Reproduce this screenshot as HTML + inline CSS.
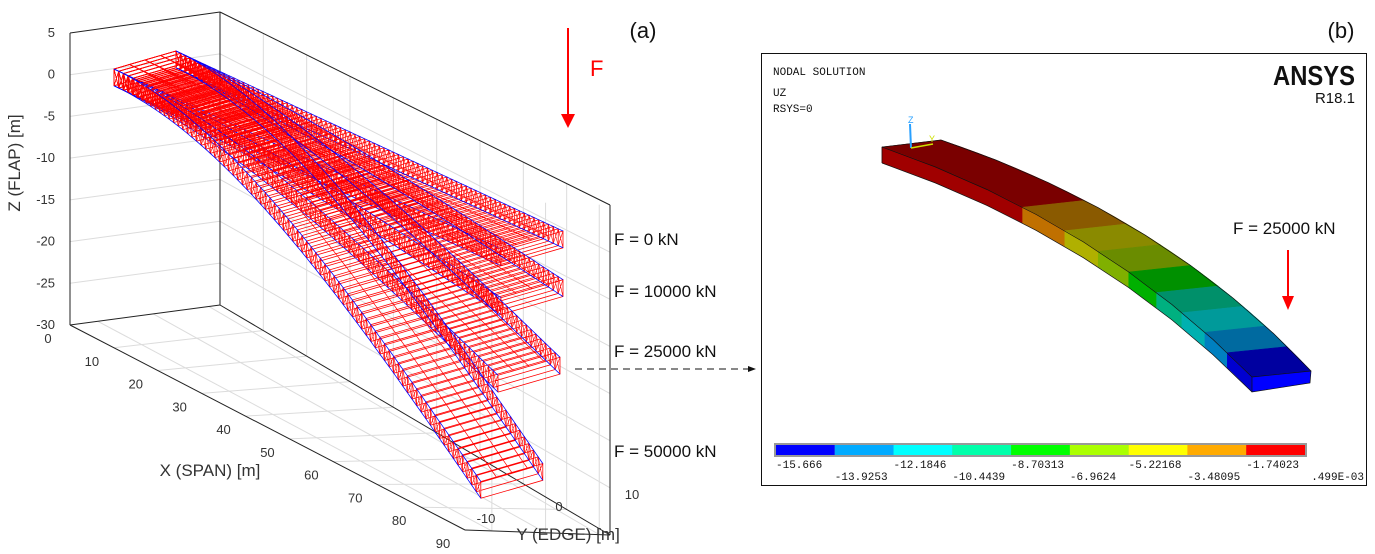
<!DOCTYPE html>
<html><head><meta charset="utf-8">
<style>
html,body{margin:0;padding:0;background:#fff;}
svg{display:block;font-family:"Liberation Sans",sans-serif;}
.mono{font-family:"Liberation Mono",monospace;}
</style></head>
<body>
<svg id="fig" width="1375" height="554" viewBox="0 0 1375 554">
  <g id="panelA">
    <g id="grid" stroke="#dcdcdc" stroke-width="1" fill="none"></g>
    <g id="frame" stroke="#222" stroke-width="1" fill="none">
      <line x1="70" y1="33" x2="220" y2="12"/>
      <line x1="220" y1="12" x2="610" y2="205"/>
      <line x1="220" y1="12" x2="220" y2="305"/>
      <line x1="610" y1="205" x2="610" y2="535"/>
      <line x1="70" y1="33" x2="70" y2="325"/>
      <line x1="70" y1="325" x2="220" y2="305"/>
      <line x1="220" y1="305" x2="610" y2="535"/>
      <line x1="70" y1="325" x2="465" y2="530"/>
      <line x1="465" y1="530" x2="610" y2="535"/>
    </g>
    <g id="ticks" font-size="13" fill="#333"></g>
    <g id="beams"></g>
    <text x="20" y="163" font-size="17" fill="#333" text-anchor="middle" transform="rotate(-90 20 163)">Z (FLAP)  [m]</text>
    <text x="210" y="476" font-size="17" fill="#333" text-anchor="middle">X (SPAN)  [m]</text>
    <text x="568" y="540" font-size="17" fill="#333" text-anchor="middle">Y (EDGE)  [m]</text>
    <text x="643" y="38" font-size="22" fill="#111" text-anchor="middle">(a)</text>
    <line x1="568" y1="28" x2="568" y2="116" stroke="#f00" stroke-width="2"/>
    <polygon points="561,114 575,114 568,128" fill="#f00"/>
    <text x="590" y="76" font-size="22" fill="#f00">F</text>
    <g id="loadLabels" font-size="17" fill="#111"></g>
    <line x1="575" y1="369" x2="748" y2="369" stroke="#111" stroke-width="1" stroke-dasharray="7,5"/>
    <polygon points="748,366 756,369 748,372" fill="#111"/>
  </g>
  <g id="panelB">
    <text x="1341" y="38" font-size="22" fill="#111" text-anchor="middle">(b)</text>
    <rect x="761.5" y="53.5" width="605" height="432" fill="#fff" stroke="#111" stroke-width="1"/>
    <text class="mono" x="773" y="75" font-size="11" fill="#111">NODAL SOLUTION</text>
    <text class="mono" x="773" y="96" font-size="11" fill="#111">UZ</text>
    <text class="mono" x="773" y="112" font-size="11" fill="#111">RSYS=0</text>
    <text x="1355" y="85" font-size="28" font-weight="bold" fill="#111" text-anchor="end" transform="translate(1355 0) scale(0.85 1) translate(-1355 0)">ANSYS</text>
    <text x="1355" y="103" font-size="15" fill="#111" text-anchor="end">R18.1</text>
    <g id="fem"></g>
    <line x1="911" y1="148" x2="910" y2="124" stroke="#29a0ff" stroke-width="2"/>
    <text x="908" y="123" font-size="9" fill="#29a0ff">Z</text>
    <line x1="911" y1="148" x2="933" y2="144" stroke="#cde000" stroke-width="1.5"/>
    <text x="929" y="142" font-size="9" fill="#cde000">Y</text>
    <text x="1233" y="234" font-size="17" fill="#111">F = 25000 kN</text>
    <line x1="1288" y1="250" x2="1288" y2="298" stroke="#f00" stroke-width="2"/>
    <polygon points="1282,296 1294,296 1288,310" fill="#f00"/>
    <g id="cbar"></g>
  </g>
</svg>
<script>
// ---- Panel (a) data ----
const loads = [0, 10000, 25000, 50000];
const loadText = ["F = 0 kN", "F = 10000 kN", "F = 25000 kN", "F = 50000 kN"];
const tipZ = [0, -5.8, -15.2, -28.8];
const tipX = [90, 90, 89.3, 85.3];
const zTicks = [5, 0, -5, -10, -15, -20, -25, -30];
const xTicks = [0, 10, 20, 30, 40, 50, 60, 70, 80, 90];
const yTicks = [-10, 0, 10];
// ---- Panel (b) data ----
const cbarValues = ["-15.666", "-13.9253", "-12.1846", "-10.4439", "-8.70313", "-6.9624", "-5.22168", "-3.48095", "-1.74023", ".499E-03"];
const cbarColors = ["#0000ff", "#00aaff", "#00ffff", "#00ffaa", "#00ff00", "#aaff00", "#ffff00", "#ffaa00", "#ff0000"];
const bandStops = [0, 0.34, 0.45, 0.54, 0.625, 0.705, 0.78, 0.85, 0.92, 1];
const topColors = ["#7a0000", "#8a5a00", "#8a8a00", "#6a8c00", "#009000", "#00906a", "#009a9a", "#006aa0", "#0000a0"];
const sideColors = ["#a00000", "#c07000", "#b0b000", "#80b000", "#00b000", "#00b080", "#00b0b0", "#0080c0", "#0000d0"];

const NS = "http://www.w3.org/2000/svg";
function mk(tag, attrs, parent) { const e = document.createElementNS(NS, tag); for (const k in attrs) e.setAttribute(k, attrs[k]); parent.appendChild(e); return e; }

function P(x, y, z) { return [151.2 + 4.3 * x + 6.2 * y, 58.2 + 2.0 * x - 1.8 * y - 8.4 * z]; }
function xAxisPt(x) { return [70 + x / 90 * 395, 325 + x / 90 * 205]; }

const grid = document.getElementById('grid');
const ticks = document.getElementById('ticks');
zTicks.forEach(z => {
  const f = (5 - z) / 35;
  const y0 = 33 + f * 292, yb = 12 + f * 293, yr = 205 + f * 330;
  if (z !== 5 && z !== -30) {
    const l1 = mk('line', {x1: 70, y1: y0, x2: 220, y2: yb}, grid);
    
    
    const l2 = mk('line', {x1: 220, y1: yb, x2: 610, y2: yr}, grid);
    
    
  }
  const t = mk('text', {x: 55, y: y0 + 4, 'text-anchor': 'end'}, ticks);
  t.textContent = z;
  
  
});
xTicks.forEach(x => {
  const [px, py] = xAxisPt(x);
  const bx = 220 + x / 90 * 390, by = 305 + x / 90 * 230;
  if (x > 0 && x < 90) {
    const g1 = mk('line', {x1: px, y1: py, x2: bx, y2: by}, grid);
    
    
    const g2 = mk('line', {x1: bx, y1: by, x2: bx, y2: 12 + x / 90 * 193}, grid);
    
    
  }
  const t = mk('text', {x: px - 22, y: py + 18, 'text-anchor': 'middle'}, ticks);
  t.textContent = x;
  
  
});
yTicks.forEach(y => {
  const f = (y + 15) / 27;
  const px = 465 + f * 145, py = 530 + f * 5;
  const fx = 70 + f * 150, fy = 325 - f * 20;
  const g = mk('line', {x1: fx, y1: fy, x2: px, y2: py}, grid);
  
  
  const g2 = mk('line', {x1: px, y1: py, x2: px, y2: py - 330}, grid);
  
  
  const t = mk('text', {x: 559 + y * 7.3, y: 511 - y * 1.2, 'text-anchor': 'middle'}, ticks);
  t.textContent = y;
  
  
});

// beams
const beams = document.getElementById('beams');
const YW = [-6, 4], TH = 2, N = 80;
function pts(a) { return a.map(p => p[0].toFixed(1) + ',' + p[1].toFixed(1)).join(' '); }
loads.forEach((F, k) => {
  const g = mk('g', {}, beams);
  
  
  const st = [];
  for (let i = 0; i <= N; i++) {
    const s = i / N;
    const x = s * tipX[k];
    const z = tipZ[k] * (3 * s * s - s * s * s) / 2;
    st.push({x, z});
  }
  let d = '';
  st.forEach(({x, z}) => {
    const a = P(x, YW[0], z), b = P(x, YW[1], z), c = P(x, YW[1], z - TH), e = P(x, YW[0], z - TH);
    d += 'M' + pts([e, a, b, c, e]).replace(/ /g, ' L') + ' ';
  });
  mk('path', {d, stroke: '#f00', 'stroke-width': 0.8, fill: 'none'}, g);
  let dd = '';
  for (let i = 0; i < N; i++) {
    const s0 = st[i], s1 = st[i + 1];
    [YW[0], YW[1]].forEach(y => {
      const a = P(s0.x, y, s0.z), b = P(s1.x, y, s1.z - TH), c = P(s0.x, y, s0.z - TH), e = P(s1.x, y, s1.z);
      dd += 'M' + pts([a, b]).replace(' ', ' L') + ' M' + pts([c, e]).replace(' ', ' L') + ' ';
    });
  }
  mk('path', {d: dd, stroke: '#f00', 'stroke-width': 0.6, fill: 'none'}, g);
  [-3.5, -1, 1.5].forEach(y => {
    mk('polyline', {points: pts(st.map(p => P(p.x, y, p.z))), stroke: '#f00', 'stroke-width': 0.7, fill: 'none'}, g);
  });
  [[YW[0], 0], [YW[1], 0], [YW[0], -TH], [YW[1], -TH]].forEach(([y, dz]) => {
    mk('polyline', {points: pts(st.map(p => P(p.x, y, p.z + dz))), stroke: '#00f', 'stroke-width': 0.8, fill: 'none'}, g);
  });
});
const labelY = [245, 297, 357, 457];
const ll = document.getElementById('loadLabels');
loadText.forEach((txt, k) => {
  const t = mk('text', {x: 614, y: labelY[k]}, ll);
  t.textContent = txt;
  
  
});

// ---- Panel (b) FEM beam ----
const fem = document.getElementById('fem');
function bez(p0, c, p2, t) { const u = 1 - t; return [u*u*p0[0] + 2*u*t*c[0] + t*t*p2[0], u*u*p0[1] + 2*u*t*c[1] + t*t*p2[1]]; }
const FT = [[882,147],[1100,222],[1252,377]];
const BT = [[941,140],[1165,215],[1311,371]];
const SB = [[882,163],[1100,238],[1252,392]];
function curve(C, t0, t1) { const a = []; for (let i = 0; i <= 8; i++) a.push(bez(C[0], C[1], C[2], t0 + (t1 - t0) * i / 8)); return a; }
for (let b = 0; b < 9; b++) {
  const t0 = bandStops[b], t1 = bandStops[b + 1];
  const top = mk('polygon', {points: pts(curve(FT, t0, t1).concat(curve(BT, t0, t1).reverse())), fill: topColors[b], stroke: topColors[b], 'stroke-width': 0.5}, fem);
  
  
  const side = mk('polygon', {points: pts(curve(FT, t0, t1).concat(curve(SB, t0, t1).reverse())), fill: sideColors[b], stroke: sideColors[b], 'stroke-width': 0.5}, fem);
  
  
}
const endF = mk('polygon', {points: '1252,377 1311,371 1310,383 1252,392', fill: '#0000ff', stroke: '#111', 'stroke-width': 0.7}, fem);


mk('polyline', {points: '941,140 882,147 882,163', fill: 'none', stroke: '#111', 'stroke-width': 0.7}, fem);
mk('polyline', {points: pts(curve(FT, 0, 1)), fill: 'none', stroke: '#111', 'stroke-width': 0.7}, fem);
mk('polyline', {points: pts(curve(BT, 0, 1)), fill: 'none', stroke: '#111', 'stroke-width': 0.7}, fem);
mk('polyline', {points: pts(curve(SB, 0, 1)), fill: 'none', stroke: '#111', 'stroke-width': 0.7}, fem);

// colorbar
const cb = document.getElementById('cbar');
const cx0 = 776, cx1 = 1305, cw = (cx1 - cx0) / 9;
mk('rect', {x: cx0 - 2, y: 443, width: cx1 - cx0 + 4, height: 14, fill: '#999'}, cb);
cbarColors.forEach((c, i) => {
  const r = mk('rect', {x: cx0 + i * cw, y: 445, width: cw, height: 10, fill: c}, cb);
  
  
});
cbarValues.forEach((v, i) => {
  const x = cx0 + i * cw;
  const t = mk('text', {x: i === 9 ? 1364 : x, y: i % 2 === 0 ? 468 : 480, 'font-size': 11, fill: '#111', 'text-anchor': i === 9 ? 'end' : 'start', class: 'mono'}, cb);
  t.textContent = v;
  
  
});
</script>
</body></html>
